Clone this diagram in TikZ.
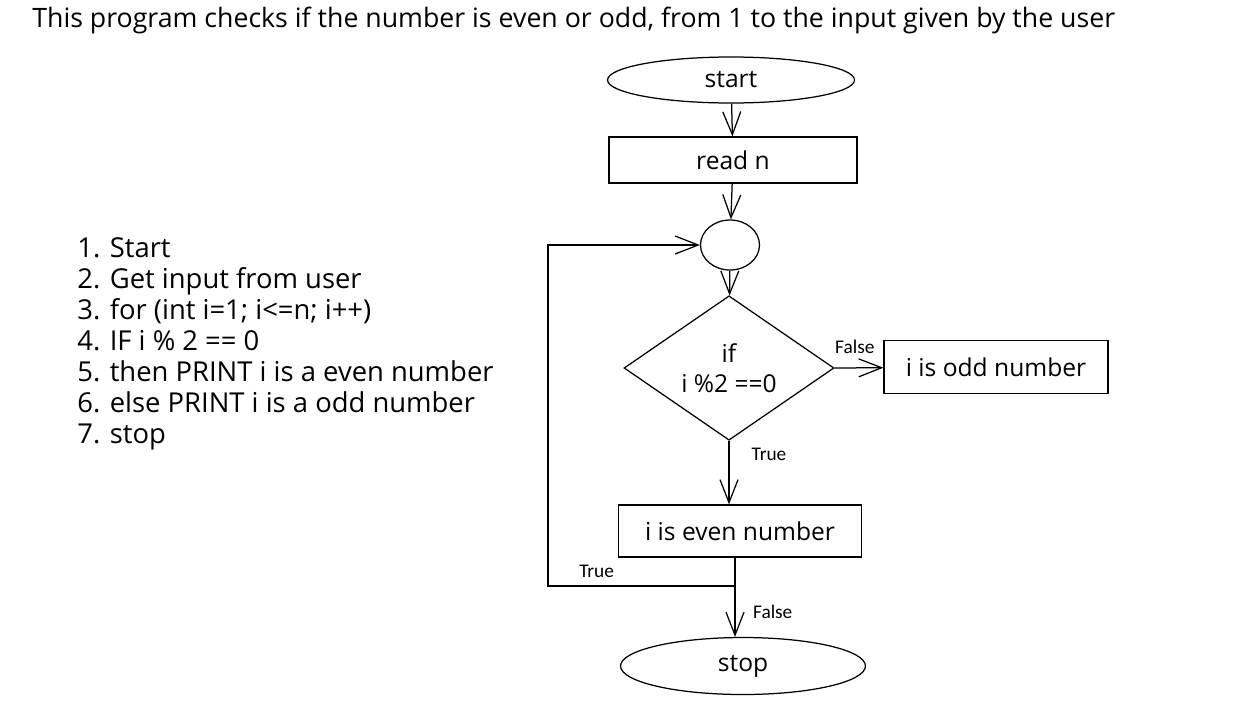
\documentclass[tikz,border=0pt]{standalone}
\usepackage{fontspec}
\setmainfont{Open Sans}
\newfontfamily\labelfont{Carlito}
\usetikzlibrary{shapes.geometric, arrows.meta}
\begin{document}
\begin{tikzpicture}[x=0.02cm, y=-0.02cm, >={Straight Barb[length=4.6mm, width=3.6mm]},
  terminal/.style={ellipse, draw, line width=0.25mm, inner sep=0pt, font=\fontsize{14}{16}\selectfont},
  stepbox/.style={rectangle, draw, line width=0.25mm, inner sep=0pt, font=\fontsize{14}{16}\selectfont},
  edgelabel/.style={font=\labelfont\fontsize{11}{13}\selectfont, inner sep=0pt}]
\useasboundingbox (0,0) rectangle (1239,717);
\node (title) at (32, 20) [anchor=west, inner sep=0pt, font=\fontsize{15.2}{17}\selectfont] {This program checks if the number is even or odd, from 1 to the input given by the user};
\node (steps) at (77, 344) [anchor=west, align=left, inner sep=0pt, font=\fontsize{15.6}{17.6}\selectfont] {1. Start\\ 2. Get input from user\\ 3. for (int i=1; i<=n; i++)\\ 4. IF i \% 2 == 0\\ 5. then PRINT i is a even number\\ 6. else PRINT i is a odd number\\ 7. stop};
\node (start) at (731, 80) [terminal, minimum width=4.94cm, minimum height=0.92cm] {start};
\node (read) at (733, 160) [stepbox, minimum width=4.96cm, minimum height=0.92cm] {read n};
\node (junction) at (730, 245) [ellipse, draw, line width=0.25mm, minimum width=1.18cm, minimum height=1.0cm] {};
\node (decide) at (729, 368) [diamond, draw, line width=0.25mm, inner sep=0pt, minimum width=4.2cm, minimum height=2.78cm, align=center, font=\fontsize{14}{17}\selectfont] {if\\ i \%2 ==0};
\node (odd) at (996, 367) [stepbox, minimum width=4.48cm, minimum height=1.06cm] {i is odd number};
\node (even) at (740, 531) [stepbox, minimum width=4.86cm, minimum height=1.04cm] {i is even number};
\node (stop) at (743, 666) [terminal, minimum width=4.9cm, minimum height=1.14cm] {stop};
\coordinate (merge) at (735, 586);
\coordinate (loopleft) at (548, 586);
\draw [->, line width=0.25mm] (start) edge (read) (read) edge (junction) (junction) edge (decide);
\draw [->, line width=0.25mm] (decide.east) -- node [edgelabel, pos=0.0, anchor=south west, yshift=2.8mm] {False} (odd);
\draw [->, line width=0.25mm] (decide.south) -- node [edgelabel, pos=0.22, anchor=west, xshift=4.4mm] {True} (decide.south |- even.north);
\draw [line width=0.25mm] (even.south -| merge) -- (merge);
\draw [->, line width=0.25mm] (merge) -- node [edgelabel, pos=0.74, above=1.5mm] {True} (loopleft) |- (junction);
\draw [->, line width=0.25mm] (merge) -- node [edgelabel, pos=0.5, right=3.5mm] {False} (stop.north -| merge);
\end{tikzpicture}
\end{document}
